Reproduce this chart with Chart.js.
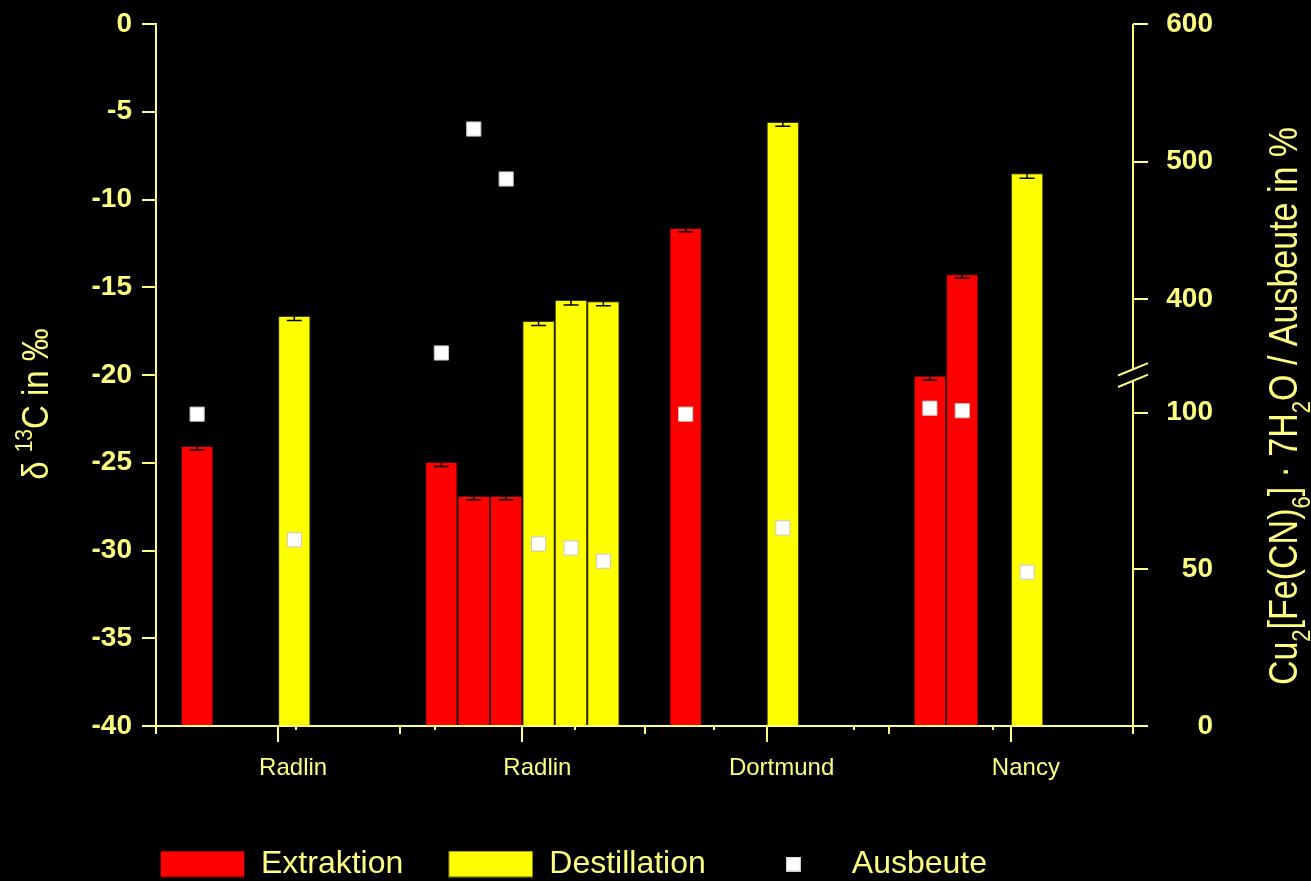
<!DOCTYPE html>
<html lang="de">
<head>
<meta charset="utf-8">
<title>δ13C – Extraktion / Destillation / Ausbeute</title>
<script src="https://cdn.jsdelivr.net/npm/chart.js@4/dist/chart.umd.min.js"></script>
<style>
  html, body { margin: 0; padding: 0; background: #000; }
  canvas { display: block; }
</style>
</head>
<body>
<canvas id="chart" width="1311" height="881"></canvas>
<script>
// ---- data -------------------------------------------------------------
const CATEGORIES = ['Radlin', 'Radlin', 'Dortmund', 'Nancy'];

// δ13C in ‰, one array per bar slot (up to three extraction and three distillation runs per site)
const EXTRAKTION_1 = [-24.05, -24.96, -11.62, -20.04];
const EXTRAKTION_2 = [null, -26.89, null, -14.26];
const EXTRAKTION_3 = [null, -26.89, null, null];
const DESTILLATION_1 = [-16.64, -16.92, -5.58, -8.51];
const DESTILLATION_2 = [null, -15.73, null, null];
const DESTILLATION_3 = [null, -15.80, null, null];

// standard deviation of δ13C in ‰
const SD_EXTRAKTION_1 = [0.22, 0.25, 0.22, 0.25];
const SD_EXTRAKTION_2 = [null, 0.22, null, 0.22];
const SD_EXTRAKTION_3 = [null, 0.22, null, null];
const SD_DESTILLATION_1 = [0.25, 0.26, 0.25, 0.28];
const SD_DESTILLATION_2 = [null, 0.28, null, null];
const SD_DESTILLATION_3 = [null, 0.25, null, null];

// Ausbeute in %, one array per bar slot
const AUSBEUTE_1 = [99.5, 361.0, 99.5, 101.4];
const AUSBEUTE_2 = [null, 523.7, null, 100.6];
const AUSBEUTE_3 = [null, 487.4, null, null];
const AUSBEUTE_4 = [59.4, 58.1, 63.2, 49.1];
const AUSBEUTE_5 = [null, 56.8, null, null];
const AUSBEUTE_6 = [null, 52.6, null, null];

// axes
const DELTA_MIN = -40, DELTA_MAX = 0, DELTA_STEP = 5;
const YIELD_TICKS = [0, 50, 100, 400, 500, 600];
const YIELD_BREAK = [112, 345];   // values hidden by the axis break

// ---- styling ------------------------------------------------------------
const FONT = '"Liberation Sans", Arial, sans-serif';
const AXIS = '#ffff80';
const RED = '#ff0000', YELLOW = '#ffff00';
const RED_EDGE = '#3a0000', YELLOW_EDGE = '#3a3a00';
const CAT_PCT = 0.796;
const N_SLOTS = 6;

// ---- linear scale with a break between YIELD_BREAK[0] and YIELD_BREAK[1] --
class BrokenLinearScale extends Chart.LinearScale {
  buildTicks() {
    this.start = this.min;
    this.end = this.max;
    return YIELD_TICKS.map(v => ({ value: v }));
  }
  toDecimal(v) {
    const [lo, hi] = YIELD_BREAK;
    if (v <= lo) return 0.5 * (v - this.min) / (lo - this.min);
    if (v >= hi) return 0.5 + 0.5 * (v - hi) / (this.max - hi);
    return 0.5;
  }
  getPixelForValue(v) {
    if (v === null || v === undefined || isNaN(v)) return NaN;
    return this.getPixelForDecimal(this.toDecimal(v));
  }
  getValueForPixel(p) {
    const [lo, hi] = YIELD_BREAK;
    const d = this.getDecimalForPixel(p);
    return d <= 0.5 ? this.min + d * 2 * (lo - this.min) : hi + (d - 0.5) * 2 * (this.max - hi);
  }
}
BrokenLinearScale.id = 'brokenLinear';
BrokenLinearScale.defaults = Chart.LinearScale.defaults;
Chart.register(BrokenLinearScale);

// ---- datasets -----------------------------------------------------------
const barSlots = [
  { label: 'Extraktion', data: EXTRAKTION_1, sd: SD_EXTRAKTION_1, fill: RED, edge: RED_EDGE },
  { label: 'Extraktion', data: EXTRAKTION_2, sd: SD_EXTRAKTION_2, fill: RED, edge: RED_EDGE },
  { label: 'Extraktion', data: EXTRAKTION_3, sd: SD_EXTRAKTION_3, fill: RED, edge: RED_EDGE },
  { label: 'Destillation', data: DESTILLATION_1, sd: SD_DESTILLATION_1, fill: YELLOW, edge: YELLOW_EDGE },
  { label: 'Destillation', data: DESTILLATION_2, sd: SD_DESTILLATION_2, fill: YELLOW, edge: YELLOW_EDGE },
  { label: 'Destillation', data: DESTILLATION_3, sd: SD_DESTILLATION_3, fill: YELLOW, edge: YELLOW_EDGE }
];
const yieldSlots = [AUSBEUTE_1, AUSBEUTE_2, AUSBEUTE_3, AUSBEUTE_4, AUSBEUTE_5, AUSBEUTE_6];

// yield markers sit on the centre of their bar slot
const yieldPoints = [];
yieldSlots.forEach((arr, k) => {
  arr.forEach((v, i) => {
    if (v !== null) yieldPoints.push({ x: i + (k - (N_SLOTS - 1) / 2) * CAT_PCT / N_SLOTS, y: v });
  });
});

const datasets = barSlots.map(s => ({
  type: 'bar',
  label: s.label,
  data: s.data.map((v, i) => ({ x: i, y: v })),
  sd: s.sd,
  backgroundColor: s.fill,
  borderColor: s.edge,
  borderWidth: 1,
  base: DELTA_MIN,
  categoryPercentage: CAT_PCT,
  barPercentage: 1,
  xAxisID: 'x',
  yAxisID: 'y',
  order: 2
}));
datasets.push({
  type: 'line',
  label: 'Ausbeute',
  data: yieldPoints,
  showLine: false,
  xAxisID: 'x',
  yAxisID: 'y2',
  pointStyle: 'rect',
  pointRadius: 10,
  pointBackgroundColor: '#ffffff',
  pointBorderColor: '#c8c8c8',
  pointBorderWidth: 1,
  order: 1
});

// ---- legend symbols -----------------------------------------------------
function swatch(w, h, fill, edge) {
  const c = document.createElement('canvas');
  c.width = w; c.height = h;
  const g = c.getContext('2d');
  g.fillStyle = fill;
  g.fillRect(0, 0, w, h);
  if (edge) { g.strokeStyle = edge; g.lineWidth = 1; g.strokeRect(0.5, 0.5, w - 1, h - 1); }
  return c;
}
const LEGEND_FONT = 32;
const LEGEND_PAD = 45;
const LEGEND_X = 160, LEGEND_CY = 864;
const legendItems = [
  { text: 'Extraktion', pointStyle: swatch(85, 27, RED, '#500000'), datasetIndex: 0 },
  { text: 'Destillation', pointStyle: swatch(85, 27, YELLOW, '#505000'), datasetIndex: 3 },
  { text: 'Ausbeute', pointStyle: swatch(15, 15, '#ffffff', '#c8c8c8'), datasetIndex: 6 }
];

// ---- plugins ------------------------------------------------------------
const errorBars = {
  id: 'errorBars',
  afterDatasetDraw(chart, args) {
    const ds = chart.data.datasets[args.index];
    if (!ds.sd) return;
    const y = chart.scales.y;
    const ctx = chart.ctx;
    ctx.save();
    ctx.strokeStyle = '#000';
    ctx.lineWidth = 1.5;
    args.meta.data.forEach((bar, i) => {
      const v = ds.data[i].y, e = ds.sd[i];
      if (v === null || e === null) return;
      const top = y.getPixelForValue(v + e), bot = y.getPixelForValue(v - e);
      const half = 7.5;
      ctx.beginPath();
      ctx.moveTo(bar.x, top); ctx.lineTo(bar.x, bot);
      ctx.moveTo(bar.x - half, top); ctx.lineTo(bar.x + half, top);
      ctx.moveTo(bar.x - half, bot); ctx.lineTo(bar.x + half, bot);
      ctx.stroke();
    });
    ctx.restore();
  }
};

const legendPlacement = {
  id: 'legendPlacement',
  afterLayout(chart) {
    const lg = chart.legend;
    if (!lg) return;
    const dx = LEGEND_X - (lg.left + LEGEND_PAD);
    const dy = LEGEND_CY - (lg.top + LEGEND_PAD + LEGEND_FONT / 2);
    lg.left += dx; lg.right += dx;
    lg.top += dy; lg.bottom += dy;
  }
};

const axisDecor = {
  id: 'axisDecor',
  afterDraw(chart) {
    const { ctx, chartArea: a, scales: { x, y2 } } = chart;
    const n = CATEGORIES.length;
    ctx.save();
    ctx.strokeStyle = AXIS;
    ctx.lineWidth = 2;
    ctx.beginPath();
    // category boundary ticks
    for (let i = 0; i <= n; i++) {
      const px = Math.round(x.getPixelForValue(i - 0.5));
      ctx.moveTo(px, a.bottom); ctx.lineTo(px, a.bottom + 8);
    }
    // small minor ticks
    for (let k = 1; k < 7; k++) {
      const px = Math.round(x.getPixelForValue(-0.5 + k * n / 7));
      ctx.moveTo(px, a.bottom); ctx.lineTo(px, a.bottom + 4);
    }
    // right axis line, interrupted at the break
    const bp = y2.getPixelForDecimal(0.5);
    const xr = Math.round(a.right);
    ctx.moveTo(xr, a.top); ctx.lineTo(xr, bp - 5.7);
    ctx.moveTo(xr, bp + 5.8); ctx.lineTo(xr, a.bottom);
    // break marks
    [-5.7, 5.8].forEach(off => {
      ctx.moveTo(xr - 15, bp + off + 6.2);
      ctx.lineTo(xr + 15, bp + off - 6.2);
    });
    ctx.stroke();
    ctx.restore();
  }
};

// rotated axis titles with sub- and superscripts
const LEFT_TITLE = [{ text: 'δ ' }, { text: '13', shift: -0.45 }, { text: 'C in ‰' }];
const RIGHT_TITLE = [
  { text: 'Cu' }, { text: '2', shift: 0.32 }, { text: '[Fe(CN)' }, { text: '6', shift: 0.32 },
  { text: '] · 7H' }, { text: '2', shift: 0.32 }, { text: 'O / Ausbeute in %' }
];
function drawRotatedTitle(ctx, parts, baseX, centerY, size, stretch) {
  ctx.save();
  ctx.translate(baseX, centerY);
  ctx.rotate(-Math.PI / 2);
  ctx.scale(1, stretch);
  ctx.fillStyle = AXIS;
  ctx.textBaseline = 'alphabetic';
  ctx.textAlign = 'left';
  const fontOf = p => `${p.shift ? Math.round(size * 0.65) : size}px ${FONT}`;
  const widths = parts.map(p => { ctx.font = fontOf(p); return ctx.measureText(p.text).width; });
  let cx = -widths.reduce((s, w) => s + w, 0) / 2;
  parts.forEach((p, i) => {
    ctx.font = fontOf(p);
    ctx.fillText(p.text, cx, (p.shift || 0) * size);
    cx += widths[i];
  });
  ctx.restore();
}
const axisTitles = {
  id: 'axisTitles',
  afterDraw(chart) {
    drawRotatedTitle(chart.ctx, LEFT_TITLE, 48, 404, 33, 1.1);
    drawRotatedTitle(chart.ctx, RIGHT_TITLE, 1297, 406, 34, 1.2);
  }
};

// ---- chart --------------------------------------------------------------
const tickFont = { family: FONT, size: 28, weight: 'bold' };
const noEndPadding = s => { s.paddingTop = 0; s.paddingBottom = 0; };

new Chart(document.getElementById('chart'), {
  type: 'bar',
  data: { datasets },
  options: {
    responsive: false,
    animation: false,
    devicePixelRatio: 1,
    events: [],
    layout: { padding: { top: 24, right: 98, bottom: 0, left: 0 } },
    plugins: {
      tooltip: { enabled: false },
      legend: {
        position: 'bottom',
        align: 'start',
        labels: {
          usePointStyle: true,
          pointStyleWidth: 85,
          padding: LEGEND_PAD,
          color: AXIS,
          font: { family: FONT, size: LEGEND_FONT },
          generateLabels: () => legendItems.map(it => ({
            text: it.text,
            pointStyle: it.pointStyle,
            fillStyle: '#000',
            strokeStyle: '#000',
            lineWidth: 0,
            hidden: false,
            datasetIndex: it.datasetIndex,
            fontColor: AXIS
          }))
        }
      }
    },
    scales: {
      x: {
        type: 'linear',
        offset: false,
        min: -0.5,
        max: CATEGORIES.length - 0.5,
        afterBuildTicks: s => { s.ticks = CATEGORIES.map((_, i) => ({ value: i })); },
        grid: { offset: false, drawOnChartArea: false, tickLength: 16, color: AXIS, lineWidth: 2 },
        border: { display: true, color: AXIS, width: 2 },
        ticks: {
          color: AXIS,
          font: { family: FONT, size: 24 },
          labelOffset: 15,
          padding: 12,
          autoSkip: false,
          maxRotation: 0,
          callback: v => CATEGORIES[v] ?? ''
        },
        afterFit: s => { s.height = 68; s.paddingLeft = 0; s.paddingRight = 0; }
      },
      y: {
        type: 'linear',
        position: 'left',
        min: DELTA_MIN,
        max: DELTA_MAX,
        ticks: { stepSize: DELTA_STEP, color: AXIS, font: tickFont, padding: 10 },
        grid: { drawOnChartArea: false, tickLength: 14, color: AXIS, lineWidth: 2 },
        border: { display: true, color: AXIS, width: 2 },
        afterFit: s => { s.width = 156; noEndPadding(s); }
      },
      y2: {
        type: 'brokenLinear',
        position: 'right',
        min: YIELD_TICKS[0],
        max: YIELD_TICKS[YIELD_TICKS.length - 1],
        ticks: { color: AXIS, font: tickFont, padding: 0, crossAlign: 'far', callback: v => String(v) },
        grid: { drawOnChartArea: false, tickLength: 15, color: AXIS, lineWidth: 2 },
        border: { display: false },
        afterFit: s => { s.width = 80; noEndPadding(s); }
      }
    }
  },
  plugins: [errorBars, legendPlacement, axisDecor, axisTitles]
});
</script>
</body>
</html>
